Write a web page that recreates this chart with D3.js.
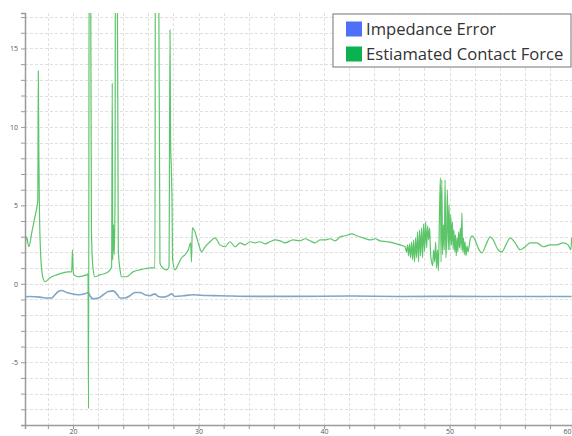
<!DOCTYPE html>
<html>
<head>
<meta charset="utf-8">
<script src="https://cdn.jsdelivr.net/npm/d3@7"></script>
<style>
  html, body { margin: 0; padding: 0; background: #fff; }
  svg { display: block; }
</style>
</head>
<body>
<svg id="chart" width="572" height="436"></svg>
<script>
// ---- data ----
const seriesNames = ["Impedance Error", "Estiamated Contact Force"];
const seriesColors = ["#4f6ff7", "#0bb350"];
const lineColors = ["#7ea6c8", "#5cc56a"];

const xTickLabels = [20, 30, 40, 50, 60];
const yTickLabels = [-5, 0, 5, 10, 15];

const errorSeries = [
  [16.18,-0.83],[16.57,-0.81],[17.37,-0.85],[17.90,-0.91],[18.30,-0.91],[18.57,-0.70],
  [18.83,-0.49],[19.10,-0.43],[19.50,-0.55],[19.90,-0.64],[20.42,-0.70],[20.96,-0.64],
  [21.22,-0.55],[21.35,-0.76],[21.62,-0.96],[22.02,-0.91],[22.41,-0.70],[22.81,-0.49],
  [23.21,-0.45],[23.48,-0.64],[23.75,-0.91],[24.14,-0.91],[24.54,-0.76],[24.94,-0.55],
  [25.34,-0.55],[25.74,-0.70],[26.14,-0.76],[26.53,-0.64],[26.80,-0.81],[27.20,-0.85],
  [27.59,-0.76],[27.86,-0.64],[28.13,-0.81],[28.79,-0.76],[29.59,-0.70],[30.65,-0.75],
  [31.71,-0.76],[34.10,-0.80],[38.09,-0.80],[42.07,-0.78],[46.06,-0.81],[50.04,-0.80],
  [54.02,-0.81],[59.72,-0.81]
];

const forceSeries = [
  [16.18,2.17],[16.30,2.99],[16.49,2.36],[16.73,3.31],[16.97,4.27],[17.13,4.90],[17.20,5.35],
  [17.24,13.57],[17.28,8.54],[17.33,4.71],[17.45,1.53],[17.59,0.45],[17.77,0.13],[18.17,0.38],
  [18.70,0.57],[19.20,0.70],[19.60,0.76],[19.90,0.76],[19.96,2.17],[20.02,0.76],[20.08,0.57],
  [20.42,0.45],[20.80,0.51],[21.09,0.57],[21.20,0.64],[21.24,-7.96],[21.30,25],[21.39,25],
  [21.47,3.44],[21.59,1.02],[21.75,0.45],[22.15,0.57],[22.69,0.70],[22.95,0.89],[23.08,1.08],
  [23.13,12.80],[23.17,1.53],[23.23,3.76],[23.29,1.85],[23.35,5.35],[23.39,25],[23.51,25],
  [23.61,2.17],[23.75,0.89],[23.88,0.45],[24.28,0.45],[24.78,0.76],[25.34,0.89],[25.74,0.96],
  [26.14,1.02],[26.53,1.02],[26.57,25],[26.80,25],[26.93,1.34],[27.07,1.08],[27.47,0.89],
  [27.65,1.08],[27.73,16.18],[27.78,8.85],[27.83,7.58],[27.89,5.35],[27.94,1.53],[28.13,0.89],
  [28.37,1.21],[28.66,1.66],[28.92,1.85],[29.19,2.17],[29.38,2.61],[29.44,1.40],[29.51,3.57],
  [29.72,3.31],[29.98,2.61],[30.25,2.04],[30.52,2.36],[30.92,2.68],[31.31,2.93],[31.71,2.48],
  [32.11,2.36],[32.51,2.68],[32.91,2.36],[33.31,2.61],[33.70,2.48],[34.10,2.68],[34.50,2.61],
  [34.90,2.68],[35.30,2.55],[35.70,2.68],[36.10,2.80],[36.49,2.74],[36.89,2.61],[37.53,2.80],
  [38.09,2.74],[38.49,2.87],[38.88,2.74],[39.28,2.61],[39.68,2.80],[40.08,2.80],[40.48,2.87],
  [40.88,2.74],[41.28,2.99],[41.67,3.06],[42.21,3.18],[42.61,3.06],[43.11,2.93],[43.67,2.80],
  [44.06,2.87],[44.46,2.74],[45.00,2.68],[45.50,2.61],[46.06,2.48],
  [46.45,2.36],[46.57,2.04],[46.65,2.48],[46.73,1.78],[46.81,2.55],[46.89,1.66],[46.97,2.68],
  [47.05,1.53],[47.13,2.80],[47.21,1.40],[47.29,2.93],[47.37,1.66],[47.45,3.31],[47.53,1.40],
  [47.61,3.44],[47.69,1.78],[47.77,3.57],[47.85,1.66],[47.93,3.82],[48.01,2.04],[48.09,3.95],
  [48.17,2.29],[48.25,3.69],[48.33,2.80],[48.41,3.57],[48.49,1.85],[48.57,1.40],[48.65,1.15],
  [48.73,2.17],[48.81,1.40],[48.89,2.68],[48.96,1.02],[49.04,2.17],[49.11,0.83],[49.20,4.71],
  [49.27,6.75],[49.32,1.40],[49.38,6.62],[49.44,1.85],[49.51,3.76],[49.58,2.17],[49.64,6.62],
  [49.70,1.66],[49.76,2.80],[49.82,5.99],[49.90,2.17],[49.96,5.03],[50.02,2.17],[50.09,4.39],
  [50.15,2.48],[50.22,3.95],[50.28,2.17],[50.34,3.44],[50.41,2.04],[50.47,3.12],[50.53,1.78],
  [50.60,2.93],[50.66,2.04],[50.72,3.31],[50.79,2.29],[50.85,3.57],[50.92,2.17],[50.98,4.52],
  [51.04,2.04],[51.11,2.93],[51.17,1.85],[51.23,2.68],[51.31,1.78],[51.39,2.41],[51.47,2.04],
  [51.63,2.80],[51.79,3.06],[52.03,2.80],[52.27,2.29],[52.57,1.97],[52.96,2.61],[53.23,2.99],
  [53.47,2.80],[53.86,2.17],[54.16,2.04],[54.56,2.61],[54.82,2.93],[55.22,2.61],[55.62,2.17],
  [56.02,2.36],[56.41,2.61],[56.95,2.61],[57.45,2.36],[58.01,2.48],[58.54,2.48],[59.04,2.61],
  [59.44,2.48],[59.66,2.17],[59.72,2.93]
];

// ---- layout ----
const plot = { left: 25, right: 572, top: 13, bottom: 425 };

const x = d3.scaleLinear().domain([16.18, 59.75]).range([plot.left, plot.right]);
const y = d3.scaleLinear().domain([-9, 17.26]).range([plot.bottom, plot.top]);

const svg = d3.select("#chart");

svg.append("defs").append("clipPath").attr("id", "clip")
  .append("rect")
  .attr("x", plot.left).attr("y", plot.top)
  .attr("width", plot.right - plot.left).attr("height", plot.bottom - plot.top);

// grid
const grid = svg.append("g");
const xMinor = d3.range(18, 60, 2);
const yMinor = d3.range(-9, 18, 1);
grid.selectAll("line.vx").data(xMinor).join("line")
  .attr("x1", d => Math.round(x(d)) + 0.5).attr("x2", d => Math.round(x(d)) + 0.5)
  .attr("y1", plot.top).attr("y2", plot.bottom)
  .attr("stroke", "#e0e0e0").attr("stroke-width", 1).attr("stroke-dasharray", "3,2");
grid.selectAll("line.hy").data(yMinor).join("line")
  .attr("x1", plot.left).attr("x2", plot.right)
  .attr("y1", d => Math.round(y(d)) + 0.5).attr("y2", d => Math.round(y(d)) + 0.5)
  .attr("stroke", "#e0e0e0").attr("stroke-width", 1).attr("stroke-dasharray", "3,2");

// lines
const line = d3.line().x(d => x(d[0])).y(d => y(d[1])).curve(d3.curveMonotoneX);
const lines = svg.append("g").attr("clip-path", "url(#clip)");
lines.append("path").datum(errorSeries)
  .attr("d", line).attr("fill", "none")
  .attr("stroke", lineColors[0]).attr("stroke-width", 1.6);
lines.append("path").datum(forceSeries)
  .attr("d", line).attr("fill", "none")
  .attr("stroke", lineColors[1]).attr("stroke-width", 1.2)
  .attr("stroke-linejoin", "round");

// axes
const yAxis = d3.axisLeft(y).tickValues(yMinor).tickSize(4)
  .tickFormat(d => yTickLabels.includes(d) ? d : "");
const gy = svg.append("g").attr("transform", `translate(${plot.left},0)`).call(yAxis);
gy.select(".domain").attr("stroke", "#9a9a9a").attr("stroke-width", 1.5);
gy.selectAll(".tick line").attr("stroke", "#9a9a9a");
gy.selectAll("text").attr("font-family", "Open Sans, sans-serif").attr("font-size", 7)
  .attr("fill", "#555").attr("x", -7);

const xAxis = d3.axisBottom(x).tickValues(d3.range(18, 62, 2)).tickSize(4)
  .tickFormat(d => xTickLabels.includes(d) ? d : "");
const gx = svg.append("g").attr("transform", `translate(0,${plot.bottom})`).call(xAxis);
gx.select(".domain").attr("stroke", "#9a9a9a").attr("stroke-width", 1.5);
gx.selectAll(".tick line").attr("stroke", "#9a9a9a");
gx.selectAll("text").attr("font-family", "Open Sans, sans-serif").attr("font-size", 7)
  .attr("fill", "#555").attr("y", 4)
  .filter(d => x(d) > plot.right - 4)
  .attr("text-anchor", "end").attr("dx", -(x(60) - plot.right) - 1);

// legend
const lg = svg.append("g");
lg.append("rect").attr("x", 333).attr("y", 14).attr("width", 238).attr("height", 53)
  .attr("fill", "#fff").attr("fill-opacity", 0.9)
  .attr("stroke", "#8a8a8a").attr("stroke-width", 1.2);
seriesNames.forEach((name, i) => {
  lg.append("rect").attr("x", 346).attr("y", 21.5 + i * 25).attr("width", 16).attr("height", 15)
    .attr("fill", seriesColors[i]);
  lg.append("text").attr("x", 366).attr("y", 35 + i * 25)
    .attr("font-family", "Open Sans, sans-serif").attr("font-size", 16.6)
    .attr("fill", "#333").text(name);
});
</script>
</body>
</html>
